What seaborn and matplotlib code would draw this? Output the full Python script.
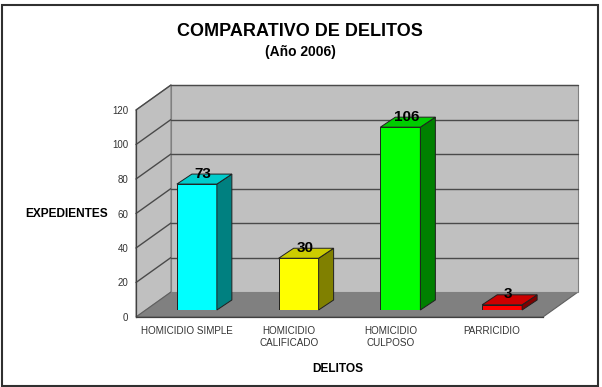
import matplotlib
matplotlib.use("Agg")
import matplotlib.pyplot as plt
import matplotlib.transforms as mtransforms
from matplotlib.patches import Polygon, Rectangle
import seaborn as sns
import pandas as pd

# ---- data ----
categories = ["HOMICIDIO SIMPLE", "HOMICIDIO\nCALIFICADO", "HOMICIDIO\nCULPOSO", "PARRICIDIO"]
values = [73, 30, 106, 3]
front_colors = ["#00FFFF", "#FFFF00", "#00FF00", "#FF0000"]
side_colors = ["#008080", "#808000", "#008000", "#800000"]
top_colors = ["#00CCCC", "#CCCC00", "#00CC00", "#CC0000"]
yticks = [0, 20, 40, 60, 80, 100, 120]

sns.set_theme(style="white")
plt.rcParams["font.family"] = ["Liberation Sans", "DejaVu Sans"]

W, H = 602, 387
fig = plt.figure(figsize=(W / 100, H / 100), dpi=100)
fig.patch.set_facecolor("white")

def fpos(x0, y0_img, x1, y1_img):
    # pixel box (image coords) -> figure fraction [l, b, w, h]
    return [x0 / W, (H - y0_img) / H, (x1 - x0) / W, (y0_img - y1_img) / H]

# front plane axes (carries spines, ticks, labels)
axf = fig.add_axes(fpos(136, 317, 543, 110))
# bar plane axes
ax = fig.add_axes(fpos(146, 310, 553, 103))

xlim = (-0.5, 3.5)
ylim = (0, 120)

df = pd.DataFrame({"delito": categories, "expedientes": values})

def off(dx, dy):
    # pixel offset (dx right, dy up) applied to data transform of bar plane
    return ax.transData + mtransforms.ScaledTranslation(dx / 100, dy / 100, fig.dpi_scale_trans)

t_front = off(-10, -7)
t_back = off(25, 18)

ax.set_xlim(*xlim)
ax.set_ylim(*ylim)

# back wall
ax.add_patch(Polygon([(-0.5, 0), (3.5, 0), (3.5, 120), (-0.5, 120)], closed=True,
                     facecolor="#C0C0C0", edgecolor="#808080", lw=0.8,
                     transform=t_back, clip_on=False, zorder=0.5))

def px(trans, x, y):
    return trans.transform((x, y))

# left wall
lw_pts = [px(t_front, -0.5, 0), px(t_front, -0.5, 120), px(t_back, -0.5, 120), px(t_back, -0.5, 0)]
fig.patches.append(Polygon(lw_pts, closed=True, facecolor="#C0C0C0", edgecolor="#808080",
                           lw=0.8, transform=None, zorder=0.5))
# floor
fl_pts = [px(t_front, -0.5, 0), px(t_front, 3.5, 0), px(t_back, 3.5, 0), px(t_back, -0.5, 0)]
fig.patches.append(Polygon(fl_pts, closed=True, facecolor="#808080", edgecolor="#606060",
                           lw=0.8, transform=None, zorder=0.6))

# gridlines
for v in yticks[1:]:
    ax.plot([-0.5, 3.5], [v, v], color="#4a4a4a", lw=1.0, transform=t_back, clip_on=False, zorder=1)
    p0 = px(t_front, -0.5, v)
    p1 = px(t_back, -0.5, v)
    fig.lines.append(plt.Line2D([p0[0], p1[0]], [p0[1], p1[1]], color="#4a4a4a", lw=1.0,
                                transform=None, zorder=0.7))

# bars
sns.barplot(data=df, x="delito", y="expedientes", hue="delito", palette=front_colors,
            width=0.393, legend=False, ax=ax, edgecolor="#202020", linewidth=0.7,
            zorder=3, saturation=1)
ax.set_xlim(*xlim)
ax.set_ylim(*ylim)
ax.axis("off")
ax.set_zorder(2)
axf.set_zorder(1)
ax.patch.set_visible(False)

# 3D sides and tops
dxp, dyp = 15, 10
bars = [p for p in ax.patches if isinstance(p, Rectangle)]
for i, patch in enumerate(bars):
    x0 = patch.get_x()
    x1 = x0 + patch.get_width()
    h = patch.get_height()
    b = ax.transData.transform((x1, 0))
    c = ax.transData.transform((x1, h))
    d = ax.transData.transform((x0, h))
    side = [b, (b[0] + dxp, b[1] + dyp), (c[0] + dxp, c[1] + dyp), c]
    top = [d, c, (c[0] + dxp, c[1] + dyp), (d[0] + dxp, d[1] + dyp)]
    for pts, col in ((side, side_colors[i]), (top, top_colors[i])):
        p = Polygon(pts, closed=True, facecolor=col, edgecolor="#202020", lw=0.7,
                    transform=mtransforms.IdentityTransform(), clip_on=False, zorder=3)
        ax.add_artist(p)

# value labels
for i, v in enumerate(values):
    ax.annotate(str(v), xy=(i, v), xytext=(4.5, 7.5), textcoords="offset points",
                ha="center", va="center", fontsize=11, fontweight="bold", color="black",
                zorder=5, annotation_clip=False)

# front axes styling
axf.set_xlim(*xlim)
axf.set_ylim(*ylim)
axf.patch.set_visible(False)
for s in ["top", "right"]:
    axf.spines[s].set_visible(False)
for s in ["left", "bottom"]:
    axf.spines[s].set_color("#404040")
    axf.spines[s].set_linewidth(0.9)
axf.set_yticks(yticks)
axf.set_yticklabels([str(v) for v in yticks], fontsize=7)
axf.set_xticks(range(len(categories)))
axf.set_xticklabels(categories, fontsize=7.1, linespacing=1.3)
axf.set_xticks([-0.5, 0.5, 1.5, 2.5, 3.5], minor=True)
axf.tick_params(axis="x", which="major", length=0, pad=6.5, colors="#333333")
axf.tick_params(axis="x", which="minor", length=4, width=0.9, color="#404040", direction="out")
axf.tick_params(axis="y", length=4, width=0.9, color="#404040", direction="out", pad=1.5, colors="#333333")
axf.grid(False)
axf.set_xlabel("DELITOS", fontsize=8.6, fontweight="bold", color="black")
axf.xaxis.set_label_coords(0.496, -0.222)
axf.set_ylabel("EXPEDIENTES", fontsize=8.6, fontweight="bold", color="black", rotation=0,
               ha="right", va="center")
axf.yaxis.set_label_coords(-0.069, 0.498)

# title
fig.text(300 / W, 1 - 31.5 / H, "COMPARATIVO DE DELITOS", ha="center", va="center",
         fontsize=13, fontweight="bold", color="black")
fig.text(300 / W, 1 - 52 / H, "(Año 2006)", ha="center", va="center",
         fontsize=10, fontweight="bold", color="black")

# outer border
fig.patches.append(Rectangle((1.5 / W, 1 - 386 / H), 596 / W, 381 / H, transform=fig.transFigure,
                             fill=False, edgecolor="#303030", lw=1.5, zorder=10))

fig.savefig("out.png", dpi=100, facecolor="white")
